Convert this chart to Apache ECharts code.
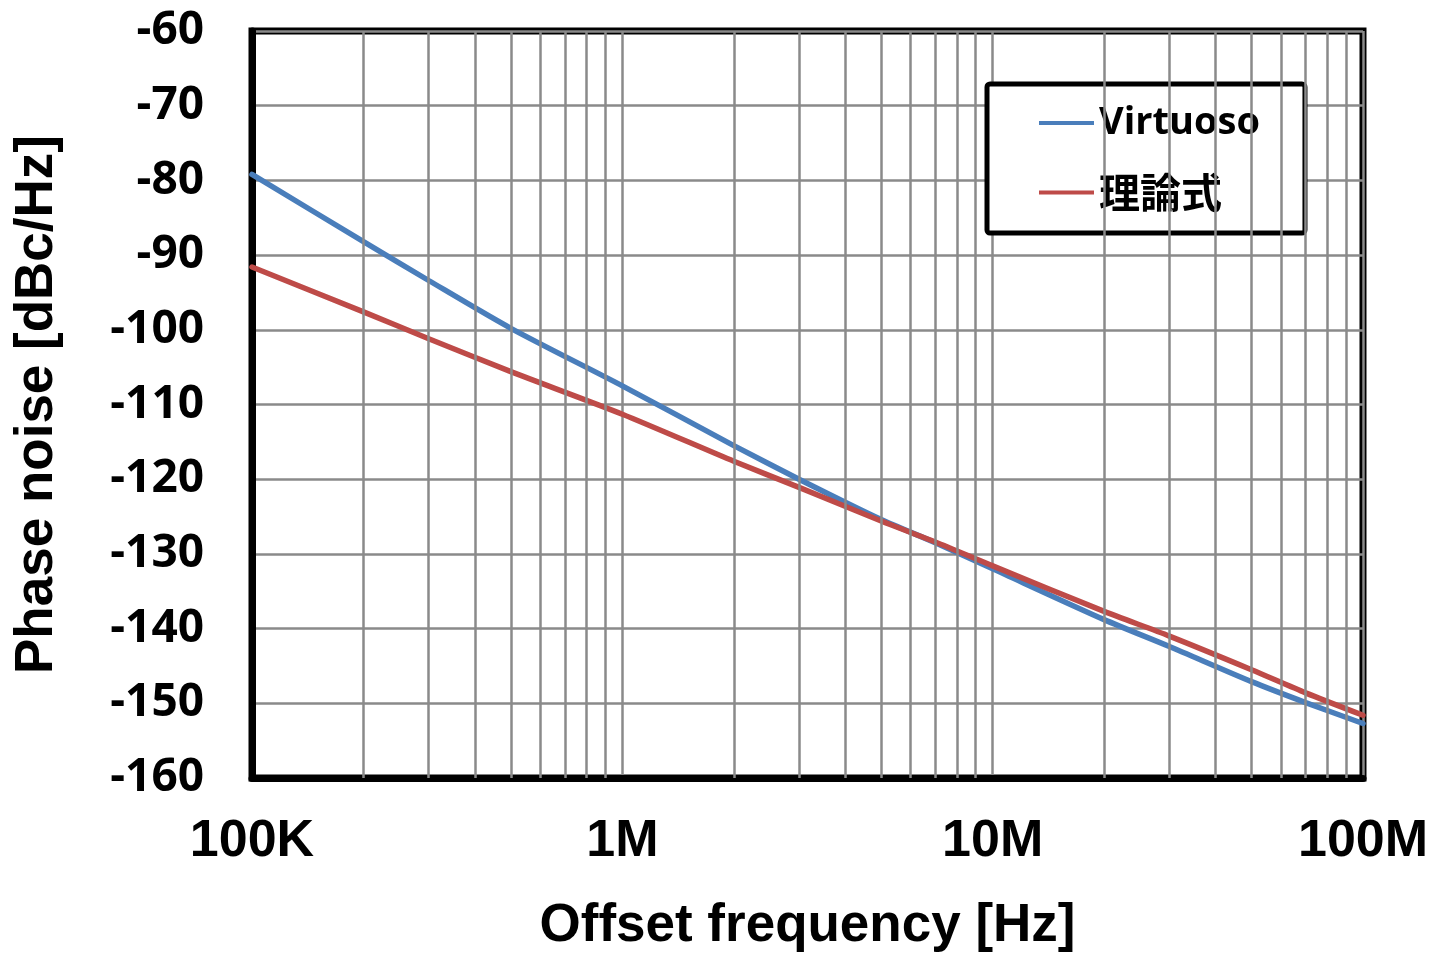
<!DOCTYPE html>
<html>
<head>
<meta charset="utf-8">
<title>Phase noise</title>
<script src="https://cdn.jsdelivr.net/npm/echarts@6/dist/echarts.min.js"></script>
<style>
  html, body { margin: 0; padding: 0; background: #fff; }
  #chart { width: 1429px; height: 955px; }
</style>
</head>
<body>
<div id="chart"></div>
<script>
// 読み取ったデータ
const freqHz = [1e5, 2e5, 3e5, 5e5, 1e6, 2e6, 3e6, 5e6, 7e6, 1e7, 2e7, 3e7, 5e7, 7e7, 1e8]
const virtuoso = [-79.2, -88.2, -93.4, -99.8, -107.5, -115.5, -120.0, -125.4, -128.5, -132.0, -138.8, -142.4, -147.1, -149.9, -152.7]
const theory = [-91.6, -97.6, -101.2, -105.6, -111.3, -117.6, -121.1, -125.6, -128.4, -131.6, -137.7, -141.0, -145.5, -148.6, -151.6]
const xTickValues = [1e5, 1e6, 1e7, 1e8]
const xTickLabels = ['100K', '1M', '10M', '100M']
const seriesNames = ['Virtuoso', '理論式']

const gridColor = '#8a8a8a'

// 対数軸の補助グリッド (2〜9 × 10^n)
const minorLines = []
for (let d = 5; d < 8; d++) {
  for (let m = 2; m <= 9; m++) {
    minorLines.push({ xAxis: m * Math.pow(10, d) })
  }
}

const chart = echarts.init(document.getElementById('chart'))
chart.setOption({
  animation: false,
  grid: {
    left: 252,
    right: 66,
    top: 31,
    bottom: 177,
    outerBoundsMode: 'none',
    show: true,
    borderColor: '#000',
    borderWidth: 7,
    backgroundColor: 'transparent'
  },
  legend: {
    data: seriesNames,
    orient: 'vertical',
    left: 987,
    top: 84,
    padding: [20, 45, 20, 52],
    itemGap: 30,
    itemWidth: 55,
    itemHeight: 4,
    icon: 'rect',
    backgroundColor: '#fff',
    borderColor: '#000',
    borderWidth: 5,
    borderRadius: 3,
    formatter: name => name === '理論式' ? '{cjk|' + name + '}' : '{lat|' + name + '}',
    textStyle: {
      color: '#000',
      rich: {
        lat: { fontFamily: 'Open Sans', fontWeight: 'bold', fontSize: 38, width: 141, lineHeight: 44, color: '#000' },
        cjk: { fontFamily: 'Noto Sans CJK JP', fontWeight: 'bold', fontSize: 41, width: 141, lineHeight: 44, color: '#000' }
      }
    }
  },
  xAxis: {
    type: 'log',
    logBase: 10,
    min: 1e5,
    max: 1e8,
    name: 'Offset frequency [Hz]',
    nameLocation: 'middle',
    nameGap: 122,
    nameTextStyle: { fontFamily: 'Liberation Sans', fontWeight: 'bold', fontSize: 53, color: '#000' },
    axisLine: { show: true, lineStyle: { color: '#000', width: 7 } },
    axisTick: { show: false },
    axisLabel: {
      margin: 38,
      fontFamily: 'Liberation Sans',
      fontWeight: 'bold',
      fontSize: 52,
      color: '#000',
      formatter: v => {
        const i = xTickValues.findIndex(t => Math.abs(Math.log10(t) - Math.log10(v)) < 1e-6)
        return i >= 0 ? xTickLabels[i] : ''
      }
    },
    splitLine: { show: true, lineStyle: { color: gridColor, width: 2.5 } }
  },
  yAxis: {
    type: 'value',
    min: -160,
    max: -60,
    interval: 10,
    name: 'Phase noise [dBc/Hz]',
    nameLocation: 'middle',
    nameRotate: 90,
    nameGap: 188,
    nameTextStyle: { fontFamily: 'Liberation Sans', fontWeight: 'bold', fontSize: 53, color: '#000' },
    axisLine: { show: true, lineStyle: { color: '#000', width: 7 } },
    axisTick: { show: false },
    axisLabel: {
      margin: 48,
      fontFamily: 'Open Sans',
      fontWeight: 'bold',
      fontSize: 46,
      color: '#000'
    },
    splitLine: { show: true, lineStyle: { color: gridColor, width: 2.5 } }
  },
  series: [
    {
      name: 'grid-minor',
      type: 'line',
      data: [],
      z: 1,
      silent: true,
      markLine: {
        silent: true,
        symbol: ['none', 'none'],
        label: { show: false },
        emphasis: { disabled: true },
        lineStyle: { type: 'solid', color: gridColor, width: 2.5 },
        data: minorLines
      }
    },
    {
      name: seriesNames[0],
      type: 'line',
      z: 3,
      showSymbol: false,
      smooth: 0.25,
      data: freqHz.map((f, i) => [f, virtuoso[i]]),
      lineStyle: { color: '#4a7ebb', width: 5.5, cap: 'round' },
      itemStyle: { color: '#4a7ebb' }
    },
    {
      name: seriesNames[1],
      type: 'line',
      z: 4,
      showSymbol: false,
      smooth: 0.25,
      data: freqHz.map((f, i) => [f, theory[i]]),
      lineStyle: { color: '#be4b48', width: 5.5, cap: 'round' },
      itemStyle: { color: '#be4b48' }
    }
  ]
})

window.addEventListener('resize', () => chart.resize())
</script>
</body>
</html>
